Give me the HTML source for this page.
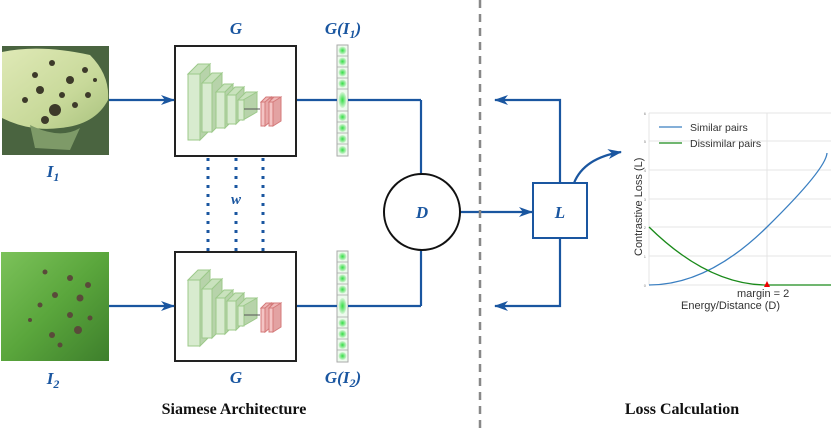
<!DOCTYPE html>
<html><head><meta charset="utf-8"><style>
html,body{margin:0;padding:0;background:#fff}
svg{display:block}
.lb{font-family:"Liberation Serif",serif;font-style:italic;font-weight:bold;fill:#1a56a0}
</style></head><body>
<svg width="831" height="430" viewBox="0 0 831 430" xmlns="http://www.w3.org/2000/svg">
<defs>
<marker id="ah" markerWidth="14" markerHeight="10" refX="13" refY="5" orient="auto" markerUnits="userSpaceOnUse"><path d="M0,0 L14,5 L0,10 L4,5 Z" fill="#1a56a0"/></marker>
<radialGradient id="cell"><stop offset="0" stop-color="#33dd44"/><stop offset="1" stop-color="#d6f5d6"/></radialGradient>
<g id="net">
 <g stroke="#9cc98a" stroke-width="1">
  <polygon points="12,28 22,18 34,18 24,28" fill="#c9e2bd"/><polygon points="24,28 34,18 34,84 24,94" fill="#b7d3aa"/><rect x="12" y="28" width="12" height="66" fill="#d8ebcf"/>
  <polygon points="26,37 36,27 46,27 36,37" fill="#c9e2bd"/><polygon points="36,37 46,27 46,76 36,86" fill="#b7d3aa"/><rect x="26" y="37" width="10" height="49" fill="#d8ebcf"/>
  <polygon points="40,46 48,38 57,38 49,46" fill="#c9e2bd"/><polygon points="49,46 57,38 57,74 49,82" fill="#b7d3aa"/><rect x="40" y="46" width="9" height="36" fill="#d8ebcf"/>
  <polygon points="51,49 59,41 68,41 60,49" fill="#c9e2bd"/><polygon points="60,49 68,41 68,70 60,78" fill="#b7d3aa"/><rect x="51" y="49" width="9" height="29" fill="#d8ebcf"/>
  <polygon points="62,54 70,46 81,46 73,54" fill="#c9e2bd"/><polygon points="67,54 81,46 81,66 67,74" fill="#b7d3aa"/><rect x="62" y="54" width="6" height="20" fill="#d8ebcf"/>
 </g>
 <line x1="68" y1="63" x2="84" y2="63" stroke="#555" stroke-width="1"/>
 <g stroke="#d47a7a" stroke-width="1">
  <polygon points="85,56 90,51 97,51 92,56" fill="#f0b8b8"/><rect x="85" y="56" width="4" height="24" fill="#f4c4c4"/><polygon points="89,56 95,51 95,75 89,80" fill="#e8a8a8"/>
  <polygon points="93,56 98,51 105,51 100,56" fill="#f0b8b8"/><rect x="93" y="56" width="4" height="24" fill="#f4c4c4"/><polygon points="97,56 105,51 105,75 97,80" fill="#e3a2a2"/>
 </g>
</g>
<g id="vec">
 <rect x="0" y="0" width="11" height="111" fill="#eefaee" stroke="#aaa" stroke-width="1"/>
 <g fill="url(#cell)">
  <circle cx="5.5" cy="5.5" r="4"/><circle cx="5.5" cy="16.5" r="4"/><circle cx="5.5" cy="27.5" r="4"/><circle cx="5.5" cy="38.5" r="4"/>
  <ellipse cx="5.5" cy="55" rx="4" ry="8"/><circle cx="5.5" cy="72" r="4"/><circle cx="5.5" cy="83" r="4"/><circle cx="5.5" cy="94" r="4"/><circle cx="5.5" cy="105" r="4"/>
 </g>
 <g stroke="#aaa" stroke-width="0.8"><line x1="0" y1="11" x2="11" y2="11"/><line x1="0" y1="22" x2="11" y2="22"/><line x1="0" y1="33" x2="11" y2="33"/><line x1="0" y1="44" x2="11" y2="44"/><line x1="0" y1="66" x2="11" y2="66"/><line x1="0" y1="77" x2="11" y2="77"/><line x1="0" y1="88" x2="11" y2="88"/><line x1="0" y1="99" x2="11" y2="99"/></g>
</g>
<linearGradient id="leaf1" x1="0" y1="0" x2="1" y2="1"><stop offset="0" stop-color="#dfe9b6"/><stop offset="0.6" stop-color="#c8d99a"/><stop offset="1" stop-color="#a9c27e"/></linearGradient>
<linearGradient id="leaf2" x1="0" y1="0" x2="1" y2="1"><stop offset="0" stop-color="#7cc25a"/><stop offset="0.5" stop-color="#5aa63c"/><stop offset="1" stop-color="#3e7f2c"/></linearGradient>
</defs>

<rect x="2" y="46" width="107" height="109" fill="#4a6440"/>
<path d="M2,52 Q40,44 90,55 Q110,75 108,100 Q95,125 60,128 Q30,132 2,118 Z" fill="url(#leaf1)"/>
<path d="M30,125 Q60,140 80,128 L70,150 L35,148 Z" fill="#7e9a68"/>
<g fill="#3d3a2a">
<circle cx="35" cy="75" r="3"/><circle cx="52" cy="63" r="3"/><circle cx="70" cy="80" r="4"/><circle cx="40" cy="90" r="4"/><circle cx="55" cy="110" r="6"/><circle cx="75" cy="105" r="3"/><circle cx="88" cy="95" r="3"/><circle cx="25" cy="100" r="3"/><circle cx="62" cy="95" r="3"/><circle cx="85" cy="70" r="3"/><circle cx="45" cy="120" r="4"/><circle cx="95" cy="80" r="2"/>
</g>
<rect x="1" y="252" width="108" height="109" fill="url(#leaf2)"/>
<g fill="#5a4a3a">
<circle cx="45" cy="272" r="2.5"/><circle cx="70" cy="278" r="3"/><circle cx="88" cy="285" r="3"/><circle cx="55" cy="295" r="3"/><circle cx="80" cy="298" r="3.5"/><circle cx="40" cy="305" r="2.5"/><circle cx="70" cy="315" r="3"/><circle cx="78" cy="330" r="4"/><circle cx="52" cy="335" r="3"/><circle cx="60" cy="345" r="2.5"/><circle cx="90" cy="318" r="2.5"/><circle cx="30" cy="320" r="2"/>
</g>

<rect x="175" y="46" width="121" height="110" fill="#fff" stroke="#222" stroke-width="2"/>
<rect x="175" y="252" width="121" height="109" fill="#fff" stroke="#222" stroke-width="2"/>
<use href="#net" x="176" y="46"/>
<use href="#net" x="176" y="252"/>
<use href="#vec" x="337" y="45"/>
<use href="#vec" x="337" y="251"/>

<g stroke="#1a56a0" stroke-width="3" stroke-dasharray="3,6">
<line x1="208" y1="158" x2="208" y2="251"/><line x1="236" y1="158" x2="236" y2="188"/><line x1="236" y1="212" x2="236" y2="251"/><line x1="263" y1="158" x2="263" y2="251"/>
</g>

<g stroke="#1a56a0" stroke-width="2.2" fill="none">
<line x1="109" y1="100" x2="174" y2="100" marker-end="url(#ah)"/>
<line x1="109" y1="306" x2="174" y2="306" marker-end="url(#ah)"/>
<line x1="297" y1="100" x2="337" y2="100"/><line x1="348" y1="100" x2="421" y2="100"/>
<polyline points="421,100 421,174"/>
<line x1="297" y1="306" x2="337" y2="306"/><line x1="348" y1="306" x2="421" y2="306"/>
<polyline points="421,306 421,250"/>
<line x1="460" y1="212" x2="532" y2="212" marker-end="url(#ah)"/>
<polyline points="560,183 560,100 495,100" marker-end="url(#ah)"/>
<polyline points="560,238 560,306 495,306" marker-end="url(#ah)"/>
<path d="M574,183 Q584,158 621,152" marker-end="url(#ah)"/>
</g>
<circle cx="422" cy="212" r="38" fill="#fff" stroke="#111" stroke-width="2"/>
<rect x="533" y="183" width="54" height="55" fill="#fff" stroke="#1a56a0" stroke-width="2"/>

<line x1="480" y1="0" x2="480" y2="430" stroke="#888" stroke-width="2.5" stroke-dasharray="8,6"/>

<g class="lb" font-size="17" text-anchor="middle">
<text x="236" y="34">G</text>
<text x="343" y="34">G(I<tspan font-size="12" dy="4">1</tspan><tspan dy="-4">)</tspan></text>
<text x="53" y="177">I<tspan font-size="12" dy="4">1</tspan></text>
<text x="236" y="204" font-size="15">w</text>
<text x="53" y="384">I<tspan font-size="12" dy="4">2</tspan></text>
<text x="236" y="383">G</text>
<text x="343" y="383">G(I<tspan font-size="12" dy="4">2</tspan><tspan dy="-4">)</tspan></text>
<text x="422" y="218">D</text>
<text x="560" y="218">L</text>
</g>
<g font-family="Liberation Serif,serif" font-weight="bold" font-size="16" fill="#111" text-anchor="middle">
<text x="234" y="414">Siamese Architecture</text>
<text x="682" y="414">Loss Calculation</text>
</g>

<g stroke="#e4e4e4" stroke-width="1">
<line x1="649" y1="113" x2="831" y2="113"/><line x1="649" y1="141" x2="831" y2="141"/><line x1="649" y1="170" x2="831" y2="170"/><line x1="649" y1="199" x2="831" y2="199"/><line x1="649" y1="227" x2="831" y2="227"/><line x1="649" y1="256" x2="831" y2="256"/><line x1="649" y1="285" x2="831" y2="285"/>
<line x1="649" y1="113" x2="649" y2="285"/><line x1="767" y1="113" x2="767" y2="285"/>
</g>
<g font-family="Liberation Sans,sans-serif" font-size="4" fill="#888" text-anchor="end">
<text x="646" y="115">6</text><text x="646" y="143">5</text><text x="646" y="172">4</text><text x="646" y="201">3</text><text x="646" y="229">2</text><text x="646" y="258">1</text><text x="646" y="287">0</text>
</g>
<path d="M649,285 Q708,285 767,227 T827,153" fill="none" stroke="#3a7fc1" stroke-width="1.3"/>
<path d="M649,227 Q708,285 767,285 L831,285" fill="none" stroke="#1a8a1a" stroke-width="1.3"/>
<path d="M764,287 L767,281 L770,287 Z" fill="#e00"/>
<line x1="659" y1="127" x2="682" y2="127" stroke="#3a7fc1" stroke-width="1.3"/>
<line x1="659" y1="143" x2="682" y2="143" stroke="#1a8a1a" stroke-width="1.3"/>
<g font-family="Liberation Sans,sans-serif" fill="#333">
<text x="690" y="131" font-size="10.5">Similar pairs</text>
<text x="690" y="147" font-size="10.5">Dissimilar pairs</text>
<text x="737" y="297" font-size="11">margin = 2</text>
<text x="681" y="309" font-size="11">Energy/Distance (D)</text>
<text transform="translate(642,256) rotate(-90)" font-size="11">Contrastive Loss (L)</text>
</g>
</svg>
</body></html>
